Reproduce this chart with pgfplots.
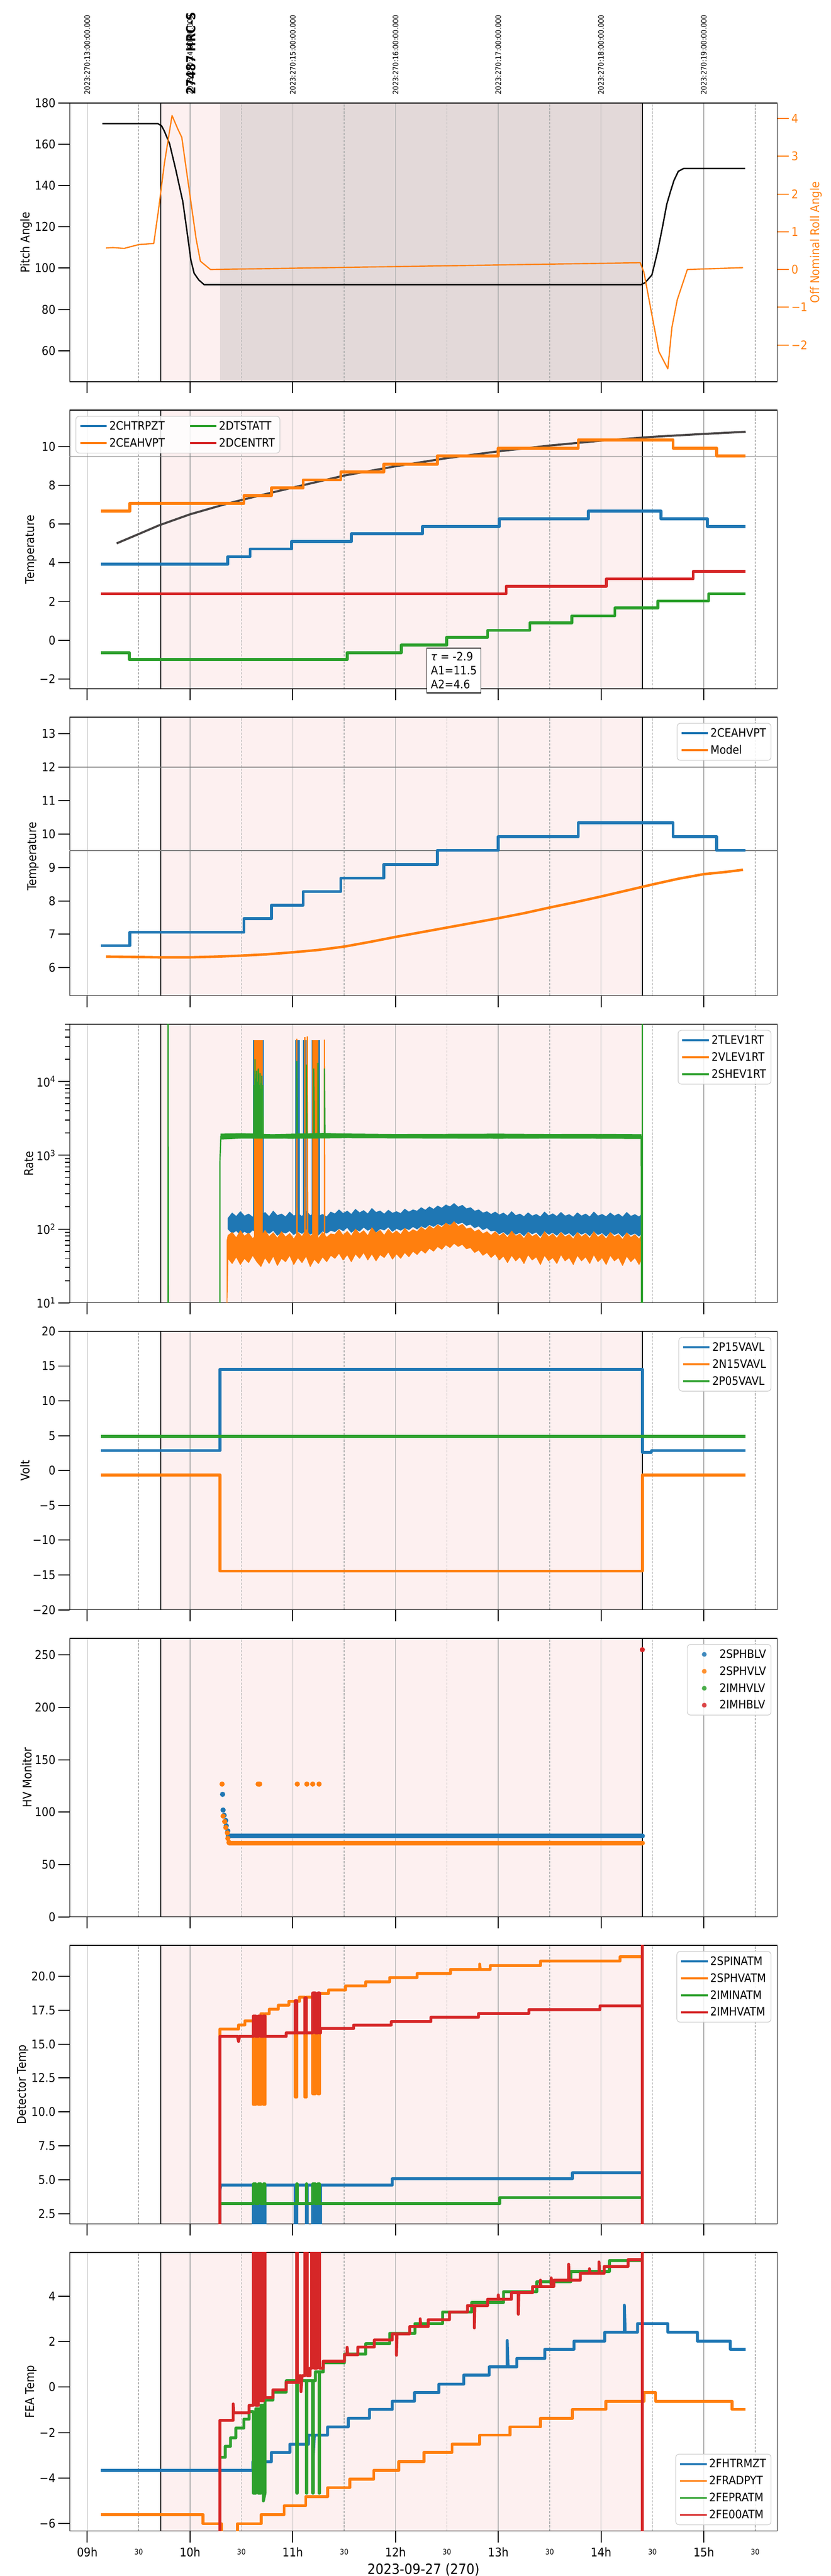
\documentclass[border=0pt]{standalone}
\usepackage{fontspec}
\setmainfont{DejaVu Sans}[FakeStretch=0.9]
\usepackage{pgfplots}
\pgfplotsset{compat=1.18}
\definecolor{tabblue}{HTML}{1F77B4}
\definecolor{taborange}{HTML}{FF7F0E}
\definecolor{tabgreen}{HTML}{2CA02C}
\definecolor{tabred}{HTML}{D62728}
\definecolor{spanpink}{RGB}{253,240,240}
\definecolor{spandark}{RGB}{227,217,217}
\definecolor{gridgray}{RGB}{176,176,176}
\definecolor{modelgray}{RGB}{72,68,68}
\newcommand{\tickf}{\fontsize{14.5}{17}\selectfont}
\newcommand{\legf}{\fontsize{14}{16.8}\selectfont}
\newcommand{\labf}{\fontsize{14.5}{17}\selectfont}
\newcommand{\minf}{\fontsize{9}{11}\selectfont}
\newcommand{\topf}{\fontsize{9}{11}\selectfont}
\newcommand{\obsspan}[2]{%
  \begin{pgfonlayer}{axis background}
    \fill[spanpink] (axis cs:9.716,#1) rectangle (axis cs:14.402,#2);
  \end{pgfonlayer}
  \begin{pgfonlayer}{axis grid}
    \draw[black, line width=0.9pt] (axis cs:9.716,#1) -- (axis cs:9.716,#2);
    \draw[black, line width=0.9pt] (axis cs:14.402,#1) -- (axis cs:14.402,#2);
  \end{pgfonlayer}}
\pgfplotsset{
  panel/.style={
    scale only axis, width=851.25pt, height=335.25pt,
    xmin=8.83, xmax=15.714,
    set layers, clip mode=individual,
    axis line style={line width=1pt},
    tick align=outside, major tick length=14pt, minor tick length=6pt,
    tick style={line width=1.2pt, black},
    xtick pos=left, ytick pos=left,
    xtick={9,10,...,15}, xticklabels={},
    xmajorgrids, major grid style={gridgray, line width=0.9pt},
    extra x ticks={9.5,10.5,...,15.5}, extra x tick labels={},
    extra x tick style={major tick length=0pt, grid=major,
      major grid style={gridgray, line width=0.9pt, dash pattern=on 2.6pt off 1.7pt},
      xticklabel style={font=\minf, anchor=base, yshift=-11.25pt}},
    xticklabel style={font=\tickf, anchor=base, yshift=-17.25pt},
    yticklabel style={font=\tickf, anchor=east, inner sep=0pt, xshift=-3pt},
    ylabel style={font=\labf},
    legend cell align=left,
    legend style={font=\legf, draw=black!20, line width=0.75pt, rounded corners=4pt,
      fill=white, fill opacity=0.85, draw opacity=1, text opacity=1,
      inner xsep=4pt, inner ysep=4pt, row sep=4.5pt, nodes={inner sep=2pt},
      at={(0.9918,0.979)}, anchor=north east},
    legend image code/.code={\draw[#1, line width=2.25pt] (0pt,0pt) -- (32pt,0pt);},
  },
  thk/.style={line width=3.5pt, line join=round},
  dotleg/.style={legend image code/.code={\fill[white, opacity=0] (0pt,-1pt) rectangle (32pt,1pt); \fill[#1, draw=none] (16pt,0pt) circle (2.9pt);}},
}
\begin{document}
\begin{tikzpicture}

%================ Panel 1 : pitch / roll
\begin{axis}[panel, at={(84pt,-124pt)}, anchor=north west,
  ymin=45, ymax=180, ytick={60,80,...,180}, yticklabels={60,80,100,120,140,160,180},
  ylabel={Pitch Angle}]
\obsspan{45}{180}
\begin{pgfonlayer}{axis background}
  \fill[spandark] (axis cs:10.29,45) rectangle (axis cs:14.402,180);
\end{pgfonlayer}
\addplot[black, line width=1.65pt, line join=round] coordinates {(9.146,170)(9.688,170)(9.724,168.9)(9.75,166.4)(9.801,160.3)(9.86,148)(9.93,132.2)(9.97,118)(10.008,104)(10.04,97.5)(10.085,94.3)(10.137,92.0)(10.2,92.0)(14.39,92.0)(14.43,93)(14.495,96.7)(14.55,108)(14.598,119.9)(14.64,131)(14.675,137)(14.71,142.5)(14.752,146.9)(14.804,148.3)(15.403,148.3)};
\node[rotate=90, anchor=west, inner sep=0pt, font=\topf] at ([yshift=10pt]axis cs:9,180) {2023:270:13:00:00.000};
\node[rotate=90, anchor=west, inner sep=0pt, font=\topf] at ([yshift=10pt]axis cs:10,180) {2023:270:14:00:00.000};
\node[rotate=90, anchor=west, inner sep=0pt, font=\topf] at ([yshift=10pt]axis cs:11,180) {2023:270:15:00:00.000};
\node[rotate=90, anchor=west, inner sep=0pt, font=\topf] at ([yshift=10pt]axis cs:12,180) {2023:270:16:00:00.000};
\node[rotate=90, anchor=west, inner sep=0pt, font=\topf] at ([yshift=10pt]axis cs:13,180) {2023:270:17:00:00.000};
\node[rotate=90, anchor=west, inner sep=0pt, font=\topf] at ([yshift=10pt]axis cs:14,180) {2023:270:18:00:00.000};
\node[rotate=90, anchor=west, inner sep=0pt, font=\topf] at ([yshift=10pt]axis cs:15,180) {2023:270:19:00:00.000};
\node[rotate=90, anchor=west, inner sep=0pt, font=\bfseries\fontsize{15}{18}\selectfont] at ([yshift=10pt]axis cs:10.01,180) {27487 HRC-S};
\end{axis}
\begin{axis}[scale only axis, width=851.25pt, height=335.25pt, at={(84pt,-124pt)}, anchor=north west,
  xmin=8.83, xmax=15.714, ymin=-2.97, ymax=4.41,
  hide x axis, axis y line*=right, axis line style={line width=1pt},
  tick align=outside, major tick length=14pt, tick style={line width=1.2pt, taborange},
  ytick={-2,-1,...,4}, yticklabels={−2,−1,0,1,2,3,4},
  yticklabel style={font=\tickf, text=taborange, anchor=west, inner sep=0pt, xshift=3pt},
  ylabel={Off Nominal Roll Angle}, ylabel style={font=\labf, text=taborange}]
\addplot[taborange, line width=1.5pt, line join=round] coordinates {(9.183,0.57)(9.25,0.58)(9.36,0.56)(9.43,0.61)(9.5,0.66)(9.647,0.69)(9.698,1.67)(9.75,2.8)(9.825,4.08)(9.88,3.73)(9.92,3.5)(9.956,2.8)(10.008,1.8)(10.06,0.8)(10.101,0.22)(10.199,0.0)(14.381,0.18)(14.417,-0.07)(14.495,-1.2)(14.562,-2.17)(14.650,-2.63)(14.69,-1.53)(14.742,-0.8)(14.840,0.0)(15.382,0.05)};
\end{axis}

%================ Panel 2 : temperatures
\begin{axis}[panel, at={(84pt,-493.5pt)}, anchor=north west,
  ymin=-2.5, ymax=11.88, ytick={-2,0,...,10}, yticklabels={−2,0,2,4,6,8,10},
  ylabel={Temperature},
  legend columns=2, legend style={at={(0.0082,0.979)}, anchor=north west,
    /tikz/every even column/.append style={column sep=27pt}}]
\obsspan{-2.5}{11.88}
\draw[gray, line width=1pt] (axis cs:8.83,9.5) -- (axis cs:15.714,9.5);
\addplot[modelgray, line width=2.5pt, forget plot] coordinates {(9.286,5.0)(9.5,5.48)(9.698,5.93)(10.0,6.5)(10.368,7.06)(10.7,7.5)(11.0,7.88)(11.5,8.5)(12.0,8.98)(12.5,9.4)(13.0,9.75)(13.5,10.05)(14.0,10.3)(14.5,10.5)(15.0,10.65)(15.408,10.76)};
\addplot[tabblue, thk, const plot, forget plot] coordinates {(9.131,3.92)(10.368,4.31)(10.585,4.71)(10.988,5.10)(11.571,5.49)(12.261,5.87)(13.010,6.26)(13.876,6.66)(14.583,6.26)(15.036,5.87)(15.408,5.87)};
\addplot[taborange, thk, const plot, forget plot] coordinates {(9.131,6.66)(9.415,7.06)(10.524,7.47)(10.792,7.87)(11.101,8.28)(11.467,8.68)(11.886,9.09)(12.406,9.51)(13.000,9.92)(13.778,10.34)(14.701,9.92)(15.124,9.51)(15.408,9.51)};
\addplot[tabgreen, thk, const plot, forget plot] coordinates {(9.131,-0.64)(9.409,-0.99)(11.529,-0.64)(12.055,-0.25)(12.499,0.15)(12.896,0.51)(13.308,0.90)(13.716,1.26)(14.134,1.66)(14.552,2.03)(15.047,2.40)(15.408,2.40)};
\addplot[tabred, thk, const plot, forget plot] coordinates {(9.131,2.40)(13.077,2.79)(14.051,3.17)(14.897,3.55)(15.408,3.55)};
\addlegendimage{tabblue}\addlegendentry{2CHTRPZT}
\addlegendimage{tabgreen}\addlegendentry{2DTSTATT}
\addlegendimage{taborange}\addlegendentry{2CEAHVPT}
\addlegendimage{tabred}\addlegendentry{2DCENTRT}
\node[draw=black, line width=1pt, fill=white, anchor=north west, align=left, font=\legf, inner sep=5pt] at (axis cs:12.30,-0.38) {\textit{τ} = -2.9\\A1=11.5\\A2=4.6};
\end{axis}

%================ Panel 3 : 2CEAHVPT vs model
\begin{axis}[panel, at={(84pt,-863pt)}, anchor=north west,
  ymin=5.16, ymax=13.5, ytick={6,...,13}, yticklabels={6,7,8,9,10,11,12,13},
  ylabel={Temperature}]
\obsspan{5.16}{13.5}
\draw[gray, line width=1pt] (axis cs:8.83,12) -- (axis cs:15.714,12);
\draw[gray, line width=1pt] (axis cs:8.83,9.5) -- (axis cs:15.714,9.5);
\addplot[tabblue, thk, const plot, forget plot] coordinates {(9.131,6.66)(9.415,7.06)(10.524,7.47)(10.792,7.87)(11.101,8.28)(11.467,8.68)(11.886,9.09)(12.406,9.51)(13.000,9.92)(13.778,10.34)(14.701,9.92)(15.124,9.51)(15.408,9.51)};
\addplot[taborange, line width=3pt, forget plot] coordinates {(9.183,6.33)(9.5,6.32)(9.7,6.31)(10.0,6.31)(10.25,6.33)(10.5,6.36)(10.75,6.40)(11.0,6.46)(11.25,6.53)(11.5,6.63)(11.75,6.77)(12.0,6.92)(12.25,7.06)(12.5,7.2)(12.75,7.34)(13.0,7.48)(13.25,7.63)(13.5,7.8)(13.75,7.96)(14.0,8.13)(14.25,8.31)(14.5,8.49)(14.75,8.66)(15.0,8.8)(15.2,8.86)(15.382,8.93)};
\addlegendimage{tabblue}\addlegendentry{2CEAHVPT}
\addlegendimage{taborange}\addlegendentry{Model}
\end{axis}

%================ Panel 4 : rates (log)
\begin{axis}[panel, at={(84pt,-1232.5pt)}, anchor=north west,
  ymode=log, ymin=10, ymax=60000, ytick={10,100,1000,10000},
  yticklabels={10\textsuperscript{1},10\textsuperscript{2},10\textsuperscript{3},10\textsuperscript{4}},
  minor ytick={20,30,40,50,60,70,80,90,200,300,400,500,600,700,800,900,2000,3000,4000,5000,6000,7000,8000,9000,20000,30000,40000,50000,60000},
  ylabel={Rate}]
\obsspan{10}{60000}
% 2TLEV1RT noisy band: upper envelope then lower envelope (reversed)
\addplot[fill=tabblue, draw=tabblue, line width=0.8pt, line join=round, forget plot] coordinates {(10.37,140)(10.41,165)(10.45,148)(10.49,172)(10.53,150)(10.57,160)(10.61,145)(10.65,158)(10.69,150)(10.73,168)(10.77,147)(10.81,175)(10.85,152)(10.89,160)(10.93,146)(10.97,170)(11.01,150)(11.05,162)(11.09,148)(11.13,176)(11.17,152)(11.21,163)(11.25,149)(11.29,158)(11.33,146)(11.37,170)(11.41,160)(11.45,182)(11.49,162)(11.53,175)(11.57,158)(11.61,185)(11.65,166)(11.69,178)(11.73,160)(11.77,190)(11.81,168)(11.85,176)(11.89,159)(11.93,180)(11.97,164)(12.01,172)(12.05,162)(12.09,186)(12.13,170)(12.17,182)(12.21,175)(12.25,195)(12.29,180)(12.33,200)(12.37,185)(12.41,205)(12.45,192)(12.49,212)(12.53,200)(12.57,222)(12.61,198)(12.65,210)(12.69,188)(12.73,195)(12.77,175)(12.81,182)(12.85,165)(12.89,172)(12.93,158)(12.97,170)(13.01,155)(13.05,165)(13.09,150)(13.13,172)(13.17,152)(13.21,160)(13.25,147)(13.29,166)(13.33,150)(13.37,158)(13.41,146)(13.45,170)(13.49,151)(13.53,161)(13.57,148)(13.61,168)(13.65,150)(13.69,157)(13.73,145)(13.77,166)(13.81,150)(13.85,160)(13.89,146)(13.93,170)(13.97,150)(14.01,158)(14.05,147)(14.09,165)(14.13,150)(14.17,160)(14.21,145)(14.25,168)(14.29,149)(14.33,157)(14.37,146)(14.39,155)
(14.39,86)(14.37,80)(14.33,88)(14.29,83)(14.25,91)(14.21,79)(14.17,89)(14.13,84)(14.09,92)(14.05,80)(14.01,89)(13.97,84)(13.93,94)(13.89,81)(13.85,90)(13.81,85)(13.77,92)(13.73,80)(13.69,89)(13.65,84)(13.61,93)(13.57,82)(13.53,90)(13.49,85)(13.45,94)(13.41,80)(13.37,91)(13.33,86)(13.29,93)(13.25,81)(13.21,90)(13.17,85)(13.13,94)(13.09,83)(13.05,92)(13.01,86)(12.97,96)(12.93,94)(12.89,104)(12.85,98)(12.81,110)(12.77,104)(12.73,116)(12.69,112)(12.65,123)(12.61,118)(12.57,126)(12.53,115)(12.49,122)(12.45,112)(12.41,118)(12.37,108)(12.33,115)(12.29,104)(12.25,110)(12.21,100)(12.17,108)(12.13,98)(12.09,104)(12.05,96)(12.01,102)(11.97,93)(11.93,107)(11.89,97)(11.85,101)(11.81,91)(11.77,103)(11.73,96)(11.69,106)(11.65,94)(11.61,100)(11.57,90)(11.53,105)(11.49,95)(11.45,102)(11.41,92)(11.37,96)(11.33,88)(11.29,94)(11.25,83)(11.21,91)(11.17,85)(11.13,97)(11.09,87)(11.05,93)(11.01,84)(10.97,95)(10.93,88)(10.89,92)(10.85,82)(10.81,96)(10.77,87)(10.73,94)(10.69,83)(10.65,90)(10.61,97)(10.57,86)(10.53,93)(10.49,84)(10.45,95)(10.41,88)(10.37,100)} -- cycle;
\addplot[fill=tabblue, draw=tabblue, line width=0.6pt, forget plot] coordinates {(10.616,100)(10.616,36000)(10.714,36000)(10.714,100)} -- cycle;
\addplot[fill=tabblue, draw=tabblue, line width=0.6pt, forget plot] coordinates {(11.024,100)(11.024,36000)(11.065,36000)(11.065,100)} -- cycle;
\addplot[fill=tabblue, draw=tabblue, line width=0.6pt, forget plot] coordinates {(11.101,100)(11.101,36000)(11.132,36000)(11.132,100)} -- cycle;
\addplot[fill=tabblue, draw=tabblue, line width=0.6pt, forget plot] coordinates {(11.184,100)(11.184,36000)(11.261,36000)(11.261,100)} -- cycle;
% 2VLEV1RT noisy band
\addplot[fill=taborange, draw=taborange, line width=0.8pt, line join=round, forget plot] coordinates {(10.36,70)(10.37,82)(10.41,90)(10.45,76)(10.49,95)(10.53,80)(10.57,88)(10.61,74)(10.65,86)(10.69,78)(10.73,96)(10.77,79)(10.81,89)(10.85,75)(10.89,92)(10.93,78)(10.97,87)(11.01,73)(11.05,90)(11.09,79)(11.13,98)(11.17,80)(11.21,88)(11.25,75)(11.29,90)(11.33,77)(11.37,86)(11.41,84)(11.45,98)(11.49,82)(11.53,93)(11.57,80)(11.61,100)(11.65,86)(11.69,95)(11.73,81)(11.77,104)(11.81,88)(11.85,96)(11.89,82)(11.93,99)(11.97,86)(12.01,94)(12.05,84)(12.09,102)(12.13,89)(12.17,98)(12.21,92)(12.25,106)(12.29,96)(12.33,110)(12.37,100)(12.41,114)(12.45,104)(12.49,120)(12.53,110)(12.57,126)(12.61,108)(12.65,116)(12.69,100)(12.73,104)(12.77,92)(12.81,98)(12.85,86)(12.89,92)(12.93,82)(12.97,92)(13.01,80)(13.05,88)(13.09,76)(13.13,94)(13.17,80)(13.21,86)(13.25,74)(13.29,90)(13.33,79)(13.37,85)(13.41,73)(13.45,92)(13.49,78)(13.53,86)(13.57,75)(13.61,90)(13.65,78)(13.69,84)(13.73,73)(13.77,90)(13.81,78)(13.85,86)(13.89,74)(13.93,92)(13.97,77)(14.01,85)(14.05,73)(14.09,90)(14.13,78)(14.17,84)(14.21,72)(14.25,89)(14.29,77)(14.33,84)(14.37,73)(14.39,80)
(14.39,38)(14.37,33)(14.33,41)(14.29,36)(14.25,43)(14.21,32)(14.17,41)(14.13,37)(14.09,44)(14.05,33)(14.01,41)(13.97,36)(13.93,45)(13.89,34)(13.85,42)(13.81,37)(13.77,44)(13.73,33)(13.69,41)(13.65,37)(13.61,45)(13.57,34)(13.53,41)(13.49,37)(13.45,44)(13.41,33)(13.37,42)(13.33,38)(13.29,45)(13.25,34)(13.21,42)(13.17,37)(13.13,44)(13.09,35)(13.05,43)(13.01,38)(12.97,46)(12.93,41)(12.89,48)(12.85,44)(12.81,52)(12.77,48)(12.73,56)(12.69,54)(12.65,62)(12.61,58)(12.57,64)(12.53,56)(12.49,61)(12.45,53)(12.41,58)(12.37,50)(12.33,55)(12.29,47)(12.25,52)(12.21,45)(12.17,50)(12.13,42)(12.09,48)(12.05,40)(12.01,46)(11.97,39)(11.93,49)(11.89,41)(11.85,45)(11.81,37)(11.77,46)(11.73,38)(11.69,48)(11.65,40)(11.61,46)(11.57,36)(11.53,45)(11.49,38)(11.45,47)(11.41,40)(11.37,44)(11.33,36)(11.29,42)(11.25,34)(11.21,39)(11.17,31)(11.13,43)(11.09,35)(11.05,41)(11.01,33)(10.97,44)(10.93,36)(10.89,40)(10.85,32)(10.81,43)(10.77,34)(10.73,41)(10.69,31)(10.65,36)(10.61,44)(10.57,35)(10.53,40)(10.49,33)(10.45,42)(10.41,34)(10.37,40)(10.36,10)} -- cycle;
\addplot[fill=taborange, draw=taborange, line width=0.6pt, forget plot] coordinates {(10.627,50)(10.627,36000)(10.705,36000)(10.705,50)} -- cycle;
\addplot[fill=taborange, draw=taborange, line width=0.6pt, forget plot] coordinates {(11.194,50)(11.194,36000)(11.246,36000)(11.246,50)} -- cycle;
\addplot[taborange, line width=1.5pt, forget plot] coordinates {(11.039,50)(11.039,38000)(11.042,50)(11.117,50)(11.117,40000)(11.12,50)(11.142,50)(11.142,41000)(11.145,50)(11.308,50)(11.308,37000)(11.311,50)};
% 2SHEV1RT
\addplot[fill=tabgreen, draw=tabgreen, line width=0.6pt, forget plot] coordinates {(10.30,1950)(10.5,1980)(10.8,1920)(11.0,1950)(11.3,1990)(11.5,1960)(12.0,1930)(12.5,1940)(13.0,1950)(13.5,1930)(14.0,1940)(14.391,1920)(14.391,1680)(14.0,1690)(13.5,1700)(13.0,1690)(12.5,1700)(12.0,1710)(11.5,1720)(11.0,1690)(10.5,1700)(10.30,1650)} -- cycle;
\addplot[tabgreen, line width=1.5pt, forget plot] coordinates {(9.131,1)(9.786,1)(9.786,1e6)(9.79,1)(10.291,1)(10.291,800)(10.30,1800)(10.62,1800)(10.622,9000)(10.626,1800)(10.632,20000)(10.636,1800)(10.64,11000)(10.644,1800)(10.648,14000)(10.652,1800)(10.656,10000)(10.66,1800)(10.665,15000)(10.669,1800)(10.673,9000)(10.677,1800)(10.681,13000)(10.685,1800)(10.69,8000)(10.694,1800)(10.698,12000)(10.702,1800)(10.708,9000)(10.712,1800)(11.039,1800)(11.039,19000)(11.044,1800)(11.132,1800)(11.132,17000)(11.137,1800)(11.204,1800)(11.204,15000)(11.21,1800)(11.246,1800)(11.246,18000)(11.25,1800)(11.308,1800)(11.308,15000)(11.313,1800)(14.391,1800)(14.395,1)(14.402,1)(14.402,1e6)};
\addlegendimage{tabblue}\addlegendentry{2TLEV1RT}
\addlegendimage{taborange}\addlegendentry{2VLEV1RT}
\addlegendimage{tabgreen}\addlegendentry{2SHEV1RT}
\end{axis}

%================ Panel 5 : volts
\begin{axis}[panel, at={(84pt,-1602pt)}, anchor=north west,
  ymin=-20, ymax=20, ytick={-20,-15,...,20}, yticklabels={−20,−15,−10,−5,0,5,10,15,20},
  ylabel={Volt}]
\obsspan{-20}{20}
\addplot[tabblue, thk, forget plot] coordinates {(9.131,2.86)(10.291,2.86)(10.291,14.51)(14.402,14.51)(14.402,2.62)(14.49,2.62)(14.49,2.86)(15.408,2.86)};
\addplot[taborange, thk, forget plot] coordinates {(9.131,-0.63)(10.291,-0.63)(10.291,-14.43)(14.402,-14.43)(14.402,-0.63)(15.408,-0.63)};
\addplot[tabgreen, thk, forget plot] coordinates {(9.131,4.89)(15.408,4.89)};
\addlegendimage{tabblue}\addlegendentry{2P15VAVL}
\addlegendimage{taborange}\addlegendentry{2N15VAVL}
\addlegendimage{tabgreen}\addlegendentry{2P05VAVL}
\end{axis}

%================ Panel 6 : HV monitor
\begin{axis}[panel, at={(84pt,-1971.5pt)}, anchor=north west,
  ymin=0, ymax=266, ytick={0,50,...,250}, yticklabels={0,50,100,150,200,250},
  ylabel={HV Monitor}]
\obsspan{0}{266}
\addplot[tabblue, line width=5.5pt, line cap=round, forget plot] coordinates {(10.37,77.2)(14.405,77.2)};
\addplot[only marks, mark=*, mark size=2.9pt, tabblue, forget plot] coordinates {(10.317,117)(10.322,102)(10.332,97)(10.348,92)(10.353,87)(10.368,82)};
\addplot[taborange, line width=5.5pt, line cap=round, forget plot] coordinates {(10.38,70.5)(14.405,70.5)};
\addplot[only marks, mark=*, mark size=2.9pt, taborange, forget plot] coordinates {(10.312,126.8)(10.322,96.2)(10.337,91)(10.348,85.3)(10.363,80.2)(10.368,74.9)(10.379,71.1)(10.663,126.8)(10.678,126.8)(11.044,126.8)(11.137,126.8)(11.194,126.8)(11.256,126.8)};
\addplot[only marks, mark=*, mark size=2.9pt, tabred, forget plot] coordinates {(14.402,255.1)};
\addlegendimage{dotleg=tabblue}\addlegendentry{2SPHBLV}
\addlegendimage{dotleg=taborange}\addlegendentry{2SPHVLV}
\addlegendimage{dotleg=tabgreen}\addlegendentry{2IMHVLV}
\addlegendimage{dotleg=tabred}\addlegendentry{2IMHBLV}
\end{axis}

%================ Panel 7 : detector temps
\begin{axis}[panel, at={(84pt,-2341pt)}, anchor=north west,
  ymin=1.75, ymax=22.28, ytick={2.5,5,...,20}, yticklabels={2.5,5.0,7.5,10.0,12.5,15.0,17.5,20.0},
  ylabel={Detector Temp}]
\obsspan{1.75}{22.28}
\addplot[tabblue, thk, forget plot] coordinates {(10.291,1.0)(10.291,4.2)(10.30,4.61)(10.616,4.61)(10.616,0)(10.64,0)(10.64,4.61)(10.665,4.61)(10.665,0)(10.69,0)(10.69,4.61)(10.715,4.61)(10.715,0)(10.73,0)(10.73,4.61)(11.024,4.61)(11.024,0)(11.039,0)(11.039,4.61)(11.132,4.61)(11.132,0)(11.142,0)(11.142,4.61)(11.194,4.61)(11.194,0)(11.22,0)(11.22,4.61)(11.245,4.61)(11.245,0)(11.271,0)(11.271,4.61)(11.968,4.61)(11.968,5.08)(13.721,5.08)(13.721,5.52)(14.391,5.52)};
\addplot[taborange, thk, forget plot] coordinates {(10.291,15.6)(10.291,16.11)(10.472,16.11)(10.472,16.41)(10.534,16.41)(10.534,16.71)(10.616,16.71)(10.616,10.56)(10.64,10.56)(10.64,17.0)(10.665,17.0)(10.665,10.56)(10.69,10.56)(10.69,17.24)(10.715,17.24)(10.715,10.56)(10.73,10.56)(10.73,17.24)(10.771,17.24)(10.771,17.57)(10.859,17.57)(10.859,17.87)(10.962,17.87)(10.962,18.15)(11.024,18.15)(11.024,11.1)(11.039,11.1)(11.039,18.15)(11.065,18.15)(11.065,18.46)(11.117,18.46)(11.117,11.1)(11.132,11.1)(11.132,18.46)(11.194,18.46)(11.194,11.34)(11.22,11.34)(11.22,18.6)(11.245,18.6)(11.245,11.34)(11.261,11.34)(11.261,18.74)(11.349,18.74)(11.349,18.99)(11.514,18.99)(11.514,19.29)(11.710,19.29)(11.710,19.59)(11.943,19.59)(11.943,19.9)(12.21,19.9)(12.21,20.2)(12.535,20.2)(12.535,20.5)(12.819,20.5)(12.819,20.9)(12.824,20.5)(12.922,20.5)(12.922,20.79)(13.411,20.79)(13.411,21.12)(14.185,21.12)(14.185,21.44)(14.391,21.44)};
\addplot[tabgreen, thk, forget plot] coordinates {(10.291,3.25)(10.616,3.25)(10.616,4.69)(10.64,4.69)(10.64,3.25)(10.665,3.25)(10.665,4.69)(10.69,4.69)(10.69,3.25)(10.715,3.25)(10.715,4.69)(10.73,4.69)(10.73,3.25)(11.039,3.25)(11.039,4.69)(11.044,4.69)(11.044,3.25)(11.132,3.25)(11.132,4.69)(11.137,4.69)(11.137,3.25)(11.194,3.25)(11.194,4.69)(11.22,4.69)(11.22,3.25)(11.245,3.25)(11.245,4.69)(11.261,4.69)(11.261,3.25)(13.015,3.25)(13.015,3.69)(14.391,3.69)};
\addplot[tabred, thk, forget plot] coordinates {(10.291,0)(10.291,15.57)(10.462,15.57)(10.472,15.2)(10.482,15.57)(10.616,15.57)(10.616,17.07)(10.64,17.07)(10.64,15.57)(10.665,15.57)(10.665,17.07)(10.69,17.07)(10.69,15.57)(10.715,15.57)(10.715,17.07)(10.73,17.07)(10.73,15.57)(10.936,15.57)(10.936,15.83)(11.024,15.83)(11.024,18.2)(11.039,18.2)(11.039,15.83)(11.117,15.83)(11.117,18.4)(11.132,18.4)(11.132,15.83)(11.194,15.83)(11.194,18.77)(11.22,18.77)(11.22,15.83)(11.245,15.83)(11.245,18.77)(11.261,18.77)(11.261,15.83)(11.271,15.83)(11.271,16.15)(11.592,16.15)(11.592,16.40)(11.958,16.40)(11.958,16.66)(12.344,16.66)(12.344,16.98)(12.808,16.98)(12.808,17.26)(13.298,17.26)(13.298,17.54)(13.990,17.54)(13.990,17.82)(14.402,17.82)(14.402,30)(14.402,-5)};
\addlegendimage{tabblue}\addlegendentry{2SPINATM}
\addlegendimage{taborange}\addlegendentry{2SPHVATM}
\addlegendimage{tabgreen}\addlegendentry{2IMINATM}
\addlegendimage{tabred}\addlegendentry{2IMHVATM}
\end{axis}

%================ Panel 8 : FEA temps
\begin{axis}[panel, at={(84pt,-2710.5pt)}, anchor=north west,
  ymin=-6.32, ymax=5.92, ytick={-6,-4,...,4}, yticklabels={−6,−4,−2,0,2,4},
  ylabel={FEA Temp},
  xticklabels={09h,10h,11h,12h,13h,14h,15h},
  extra x tick labels={30,30,30,30,30,30,30},
  xlabel={2023-09-27 (270)},
  xlabel style={font=\fontsize{17}{20}\selectfont, at={(rel axis cs:0.5,0)}, anchor=base, yshift=-52.25pt},
  legend style={at={(0.9918,0.0209)}, anchor=south east}]
\obsspan{-6.32}{5.92}
\addplot[tabblue, thk, forget plot] coordinates {(9.131,-3.66)(10.611,-3.66)(10.611,-3.28)(10.792,-3.28)(10.792,-2.87)(10.972,-2.87)(10.972,-2.51)(11.153,-2.51)(11.153,-2.11)(11.194,-2.11)(11.194,-0.6)(11.20,-3.0)(11.21,-2.11)(11.339,-2.11)(11.339,-1.75)(11.540,-1.75)(11.540,-1.37)(11.746,-1.37)(11.746,-0.98)(11.968,-0.98)(11.968,-0.62)(12.184,-0.62)(12.184,-0.24)(12.422,-0.24)(12.422,0.13)(12.664,0.13)(12.664,0.53)(12.912,0.53)(12.912,0.89)(13.087,0.89)(13.087,2.05)(13.095,0.89)(13.180,0.89)(13.180,1.26)(13.453,1.26)(13.453,1.66)(13.737,1.66)(13.737,2.02)(14.036,2.02)(14.036,2.41)(14.227,2.41)(14.227,3.6)(14.235,2.41)(14.355,2.41)(14.355,2.79)(14.650,2.79)(14.650,2.41)(14.938,2.41)(14.938,2.02)(15.258,2.02)(15.258,1.66)(15.408,1.66)};
\addplot[taborange, thk, forget plot] coordinates {(9.131,-5.6)(10.127,-5.6)(10.127,-6.0)(10.307,-6.0)(10.307,-7)(10.462,-7)(10.462,-6.0)(10.693,-6.0)(10.693,-5.6)(10.915,-5.6)(10.915,-5.21)(11.127,-5.21)(11.127,-4.81)(11.339,-4.81)(11.339,-4.42)(11.555,-4.42)(11.555,-4.04)(11.788,-4.04)(11.788,-3.66)(12.030,-3.66)(12.030,-3.28)(12.277,-3.28)(12.277,-2.87)(12.550,-2.87)(12.550,-2.51)(12.819,-2.51)(12.819,-2.11)(13.113,-2.11)(13.113,-1.75)(13.411,-1.75)(13.411,-1.37)(13.721,-1.37)(13.721,-0.98)(14.046,-0.98)(14.046,-0.62)(14.417,-0.62)(14.417,-0.24)(14.531,-0.24)(14.531,-0.62)(15.274,-0.62)(15.274,-0.98)(15.408,-0.98)};
\addplot[tabgreen, thk, forget plot] coordinates {(10.291,-3.085)(10.343,-3.085)(10.343,-2.6)(10.394,-2.6)(10.394,-2.23)(10.446,-2.23)(10.446,-1.8)(10.524,-1.8)(10.524,-1.41)(10.575,-1.41)(10.575,-1.08)(10.616,-1.08)(10.616,-4.66)(10.64,-4.66)(10.64,-0.95)(10.665,-0.95)(10.665,-4.66)(10.69,-4.66)(10.69,-0.8)(10.714,-0.8)(10.714,-5.0)(10.73,-4.66)(10.73,-0.57)(10.807,-0.57)(10.807,-0.22)(10.936,-0.22)(10.936,0.28)(11.039,0.28)(11.039,-4.66)(11.044,-4.66)(11.044,0.28)(11.132,0.28)(11.132,-4.66)(11.137,-4.66)(11.137,0.28)(11.194,0.28)(11.194,-4.66)(11.199,-4.66)(11.199,0.28)(11.220,0.28)(11.220,0.67)(11.256,0.67)(11.256,-4.66)(11.261,-4.66)(11.261,0.67)(11.297,0.67)(11.297,1.07)(11.503,1.07)(11.503,1.45)(11.710,1.45)(11.710,1.91)(11.943,1.91)(11.943,2.36)(12.189,2.36)(12.189,2.79)(12.458,2.79)(12.458,3.3)(12.741,3.3)(12.741,3.72)(13.051,3.72)(13.051,4.19)(13.375,4.19)(13.375,4.63)(13.706,4.63)(13.706,5.08)(14.082,5.08)(14.082,5.56)(14.391,5.56)};
\addplot[tabred, thk, forget plot] coordinates {(10.291,-7)(10.291,-1.46)(10.420,-1.46)(10.420,-0.74)(10.425,-1.13)(10.575,-1.13)(10.575,-0.8)(10.616,-0.8)(10.616,7)(10.64,7)(10.64,-0.8)(10.665,-0.8)(10.665,7)(10.69,7)(10.69,-0.6)(10.714,-0.6)(10.714,7)(10.73,7)(10.73,-0.46)(10.807,-0.46)(10.807,-0.12)(10.936,-0.12)(10.936,0.21)(11.039,0.21)(11.039,7)(11.044,7)(11.044,0.21)(11.065,0.21)(11.065,0.5)(11.08,0.5)(11.08,-0.2)(11.09,0.5)(11.117,0.5)(11.117,7)(11.142,7)(11.142,0.5)(11.168,0.5)(11.168,0.83)(11.184,0.83)(11.184,7)(11.21,7)(11.21,0.83)(11.235,0.83)(11.235,7)(11.261,7)(11.261,0.83)(11.297,0.83)(11.297,1.14)(11.503,1.14)(11.503,1.42)(11.529,1.42)(11.529,1.75)(11.535,1.42)(11.633,1.42)(11.633,1.76)(11.793,1.76)(11.793,2.07)(11.968,2.07)(11.968,2.34)(12.009,2.34)(12.009,1.4)(12.015,2.34)(12.138,2.34)(12.138,2.66)(12.24,2.66)(12.24,3.0)(12.245,2.66)(12.318,2.66)(12.318,2.96)(12.525,2.96)(12.525,3.30)(12.700,3.30)(12.700,3.58)(12.767,3.58)(12.767,2.6)(12.772,3.58)(12.896,3.58)(12.896,3.86)(13.0,3.86)(13.0,4.05)(13.005,3.86)(13.128,3.86)(13.128,4.15)(13.195,4.15)(13.195,3.2)(13.2,4.15)(13.334,4.15)(13.334,4.42)(13.41,4.42)(13.41,4.7)(13.415,4.42)(13.515,4.42)(13.515,4.8)(13.52,4.42)(13.541,4.42)(13.541,4.70)(13.685,4.70)(13.685,5.4)(13.69,4.70)(13.799,4.70)(13.799,5.0)(13.887,5.0)(13.887,5.2)(13.892,5.0)(13.98,5.0)(13.98,5.5)(13.985,5.0)(14.031,5.0)(14.031,5.3)(14.263,5.3)(14.263,5.6)(14.402,5.6)(14.402,7)(14.402,-7)};
\addlegendimage{tabblue}\addlegendentry{2FHTRMZT}
\addlegendimage{taborange}\addlegendentry{2FRADPYT}
\addlegendimage{tabgreen}\addlegendentry{2FEPRATM}
\addlegendimage{tabred}\addlegendentry{2FE00ATM}
\end{axis}
\pgfresetboundingbox
\useasboundingbox (0,0) rectangle (1000pt,-3100pt);
\end{tikzpicture}
\end{document}
